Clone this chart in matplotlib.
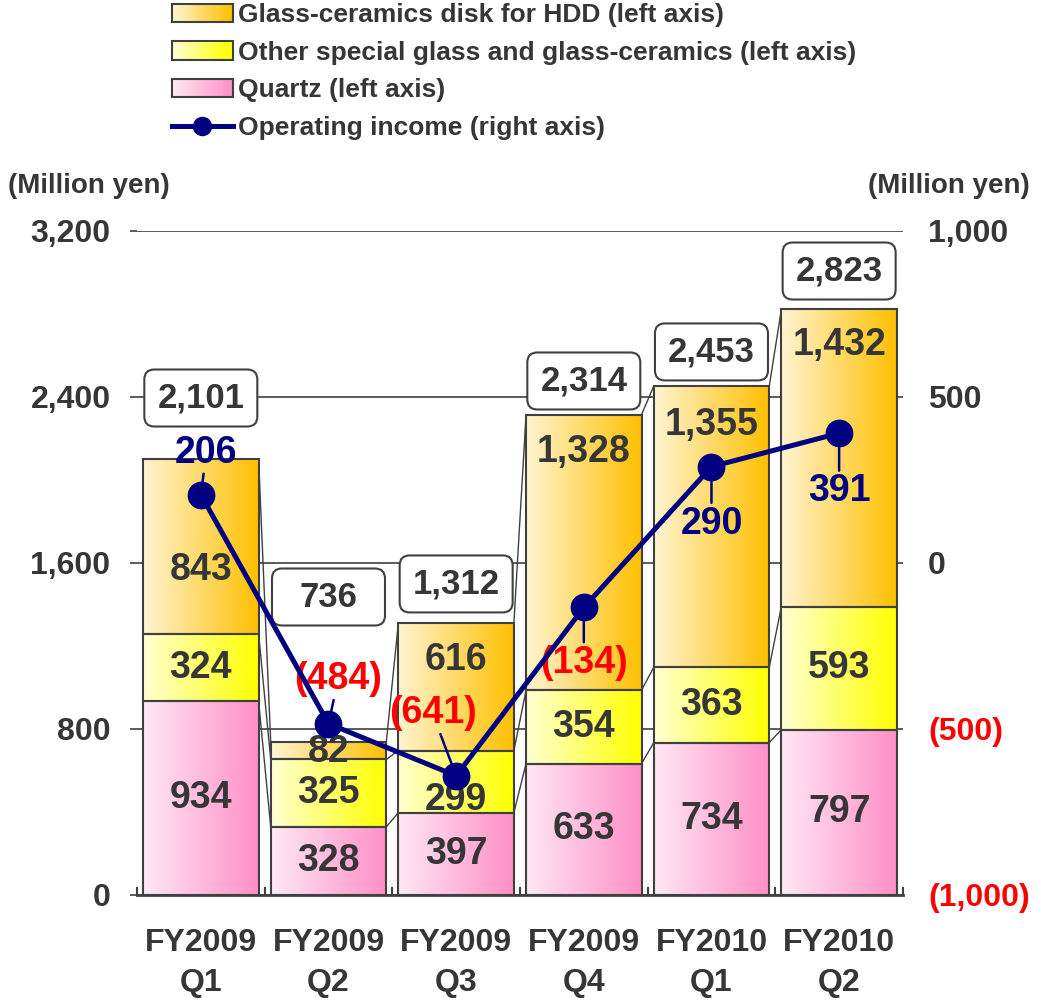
import numpy as np
import matplotlib
matplotlib.use('Agg')
import matplotlib.pyplot as plt
import matplotlib.transforms as mtransforms
from matplotlib.patches import Rectangle, FancyBboxPatch
from matplotlib.lines import Line2D
from matplotlib.legend_handler import HandlerBase
from matplotlib.colors import LinearSegmentedColormap, to_rgb

plt.rcParams['font.family'] = ['Liberation Sans', 'DejaVu Sans']
plt.rcParams['font.weight'] = 'bold'

#------------------------------- data -------------------------------#
periods = ['FY2009\nQ1', 'FY2009\nQ2', 'FY2009\nQ3', 'FY2009\nQ4', 'FY2010\nQ1', 'FY2010\nQ2']
quartz = [934, 328, 397, 633, 734, 797]
other_glass = [324, 325, 299, 354, 363, 593]
hdd_disk = [843, 82, 616, 1328, 1355, 1432]
totals = [2101, 736, 1312, 2314, 2453, 2823]
op_income = [206, -484, -641, -134, 290, 391]

# label placement (left axis units / offsets in points)
total_box_y = [2395, 1436, 1499, 2477, 2617, 3007]
hdd_label_y = [1566, 690, 1133, 2135, 2265, 2650]
other_label_fix = {2: 458}
op_offsets = [(4, 30), (7, 32), (-17, 45), (0, -40), (0, -41), (0, -42)]

TXT = '#363636'
EDGE = '#404040'
NAVY = '#000080'
RED = '#FF0000'

fills = {
    'quartz': ('#FFE8F3', '#FF8FC8'),
    'other': ('#FFFFD2', '#FFFF00'),
    'hdd': ('#FFF4D2', '#FFC000'),
}


class GradSwatch:
    def __init__(self, c0, c1):
        self.c0, self.c1 = c0, c1


class GradientHandler(HandlerBase):
    def create_artists(self, legend, orig_handle, xdescent, ydescent,
                       width, height, fontsize, trans):
        n = 30
        a0 = np.array(to_rgb(orig_handle.c0))
        a1 = np.array(to_rgb(orig_handle.c1))
        arts = []
        for k in range(n):
            f = k / (n - 1)
            arts.append(Rectangle((-xdescent + width * k / n, -ydescent), width / n * 1.05, height,
                                  facecolor=(1 - f) * a0 + f * a1, edgecolor='none', transform=trans))
        arts.append(Rectangle((-xdescent, -ydescent), width, height, facecolor='none',
                              edgecolor=EDGE, lw=1.5, transform=trans))
        return arts


fig = plt.figure(figsize=(10.41, 10.02), dpi=100)
ax = fig.add_axes([0.1316, 0.1068, 0.7358, 0.6627])

x = np.arange(len(periods))
width = 0.905
grad = np.linspace(0, 1, 256).reshape(1, -1)

bottoms = np.zeros(len(periods))
for vals, key in [(quartz, 'quartz'), (other_glass, 'other'), (hdd_disk, 'hdd')]:
    vals = np.array(vals, dtype=float)
    bars = ax.bar(x, vals, width, bottom=bottoms, facecolor='none',
                  edgecolor=EDGE, linewidth=1.5, zorder=3)
    cmap = LinearSegmentedColormap.from_list(key, fills[key])
    for b in bars:
        ax.imshow(grad, extent=[b.get_x(), b.get_x() + b.get_width(),
                                b.get_y(), b.get_y() + b.get_height()],
                  aspect='auto', cmap=cmap, zorder=2, interpolation='bilinear')
    tops = bottoms + vals
    # series lines between bars
    for i in range(len(x) - 1):
        ax.plot([x[i] + width / 2, x[i + 1] - width / 2], [tops[i], tops[i + 1]],
                color=EDGE, lw=1, zorder=1.5)
    for i in range(len(x)):
        if key == 'hdd':
            ly = hdd_label_y[i]
        elif key == 'other' and i in other_label_fix:
            ly = other_label_fix[i]
        else:
            ly = bottoms[i] + vals[i] / 2
        ax.text(x[i], ly, f'{int(vals[i]):,}', ha='center', va='center',
                fontsize=27, color=TXT, zorder=5)
    bottoms = tops

# total boxes
for i, t in enumerate(totals):
    trans = fig.dpi_scale_trans + mtransforms.ScaledTranslation(x[i], total_box_y[i], ax.transData)
    box = FancyBboxPatch((-0.565, -0.285), 1.13, 0.57, boxstyle='round,pad=0,rounding_size=0.1',
                         transform=trans, facecolor='white', edgecolor=EDGE, lw=1.5,
                         zorder=6, clip_on=False)
    ax.add_artist(box)
    ax.text(x[i], total_box_y[i], f'{t:,}', ha='center', va='center',
            fontsize=25, color=TXT, zorder=7)

ax.set_xlim(-0.5, 5.5)
ax.set_ylim(0, 3200)
ax.set_yticks(np.arange(0, 3201, 800))
ax.set_yticklabels([f'{v:,}' for v in range(0, 3201, 800)])
ax.yaxis.grid(True, color=EDGE, lw=1.2)
ax.set_axisbelow(True)
for s in ['left', 'right', 'top']:
    ax.spines[s].set_visible(False)
ax.spines['bottom'].set_color(EDGE)
ax.spines['bottom'].set_linewidth(2)
ax.set_xticks(x)
ax.set_xticklabels(periods, fontsize=23, color=TXT, linespacing=1.4)
ax.set_xticks(np.arange(-0.5, 6, 1), minor=True)
ax.tick_params(axis='x', which='major', length=0, pad=24)
ax.tick_params(axis='x', which='minor', direction='in', length=6, width=1.5, color=EDGE)
ax.tick_params(axis='y', length=5, width=1.2, color=EDGE, pad=14, labelsize=23, labelcolor=TXT)

ax2 = ax.twinx()
ax2.set_ylim(-1000, 1000)
rticks = np.arange(-1000, 1001, 500)
ax2.set_yticks(rticks)
ax2.set_yticklabels([f'({-v:,})' if v < 0 else f'{v:,}' for v in rticks])
for lbl, v in zip(ax2.get_yticklabels(), rticks):
    lbl.set_color(RED if v < 0 else TXT)
for s in ax2.spines.values():
    s.set_visible(False)
ax2.tick_params(axis='y', length=0, pad=18, labelsize=23)

ax2.plot(x, op_income, color=NAVY, lw=3.6, marker='o', ms=19, zorder=4)
for i, v in enumerate(op_income):
    lbl = f'({-v:,})' if v < 0 else f'{v:,}'
    ax2.annotate(lbl, (x[i], v), xytext=op_offsets[i], textcoords='offset points',
                 ha='center', va='center', fontsize=27,
                 color=RED if v < 0 else NAVY,
                 arrowprops=dict(arrowstyle='-', color=NAVY, lw=1.8, shrinkA=0, shrinkB=9))

fig.text(8 / 1041, 1 - 186 / 1002, '(Million yen)', ha='left', va='center', fontsize=20, color=TXT)
fig.text(1030 / 1041, 1 - 186 / 1002, '(Million yen)', ha='right', va='center', fontsize=20, color=TXT)

handles = [GradSwatch(*fills['hdd']), GradSwatch(*fills['other']), GradSwatch(*fills['quartz']),
           Line2D([], [], color=NAVY, lw=3.6, marker='o', ms=13)]
labels = ['Glass-ceramics disk for HDD (left axis)',
          'Other special glass and glass-ceramics (left axis)',
          'Quartz (left axis)',
          'Operating income (right axis)']
fig.legend(handles, labels, handler_map={GradSwatch: GradientHandler()},
           loc='upper left', bbox_to_anchor=(172 / 1041, 1 - 3 / 1002),
           frameon=False, fontsize=19, labelcolor=TXT, handlelength=2.3, handleheight=0.7,
           handletextpad=0.2, labelspacing=0.52, borderpad=0, borderaxespad=0)

fig.savefig('out.png', dpi=100)
